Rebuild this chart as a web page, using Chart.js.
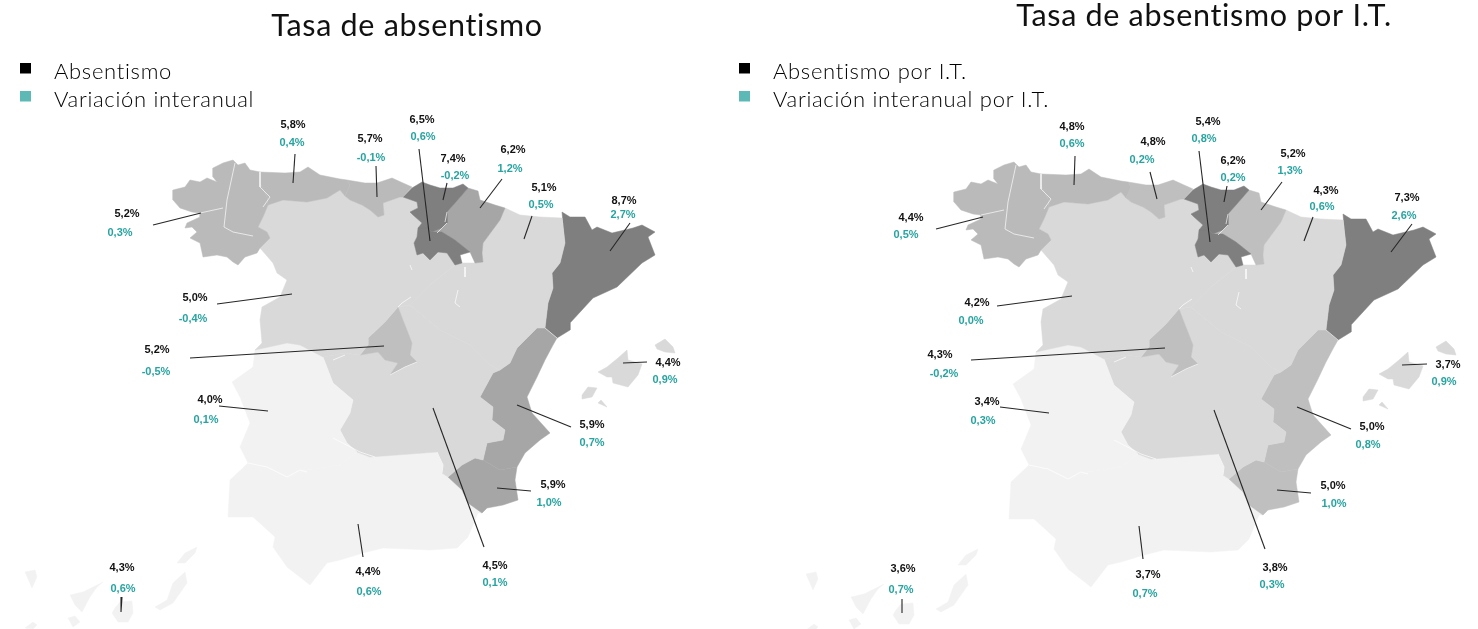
<!DOCTYPE html>
<html lang="es">
<head>
<meta charset="utf-8">
<title>Tasa de absentismo</title>
<script src="https://cdn.jsdelivr.net/npm/chart.js@4"></script>
<style>
html,body{margin:0;padding:0;background:#fff;width:1478px;height:629px;overflow:hidden}
#wrap{position:relative;width:1478px;height:629px;overflow:hidden}
canvas{position:absolute;top:0}
</style>
</head>
<body>
<div id="wrap">
<canvas id="left" width="814" height="629" style="left:0;width:814px;height:629px"></canvas>
<canvas id="right" width="970" height="629" style="left:719px;width:970px;height:629px"></canvas>
</div>
<script>
// ---- Values (same region order everywhere) ----
const regions = ["Galicia","Asturias","Cantabria","País Vasco","La Rioja","Navarra","Aragón","Cataluña","Castilla y León","Madrid","Extremadura","Castilla-La Mancha","C. Valenciana","Murcia","Andalucía","Baleares","Canarias"];
const absentismo    = [5.2,5.8,5.7,7.4,6.5,6.2,5.1,8.7,5.0,5.2,4.0,4.5,5.9,5.9,4.4,4.4,4.3];
const variacion     = [0.3,0.4,-0.1,-0.2,0.6,1.2,0.5,2.7,-0.4,-0.5,0.1,0.1,0.7,1.0,0.6,0.9,0.6];
const absentismoIT  = [4.4,4.8,4.8,6.2,5.4,5.2,4.3,7.3,4.2,4.3,3.4,3.8,5.0,5.0,3.7,3.7,3.6];
const variacionIT   = [0.5,0.6,0.2,0.2,0.8,1.3,0.6,2.6,0.0,-0.2,0.3,0.3,0.8,1.0,0.7,0.9,0.7];

// ---- Text ----
const titleLeft = "Tasa de absentismo";
const titleRight = "Tasa de absentismo por I.T.";
const legendLeft = ["Absentismo","Variación interanual"];
const legendRight = ["Absentismo por I.T.","Variación interanual por I.T."];

// ---- Map outlines, in axis units of the left chart ----
const galicia = [[260,172],[250,170],[245,163],[238,165],[233,160],[223,163],[213,168],[213,177],[217,182],[207,178],[200,182],[190,180],[185,187],[173,190],[173,200],[180,208],[192,212],[200,213],[200,217],[187,223],[185,228],[192,227],[197,232],[190,238],[200,243],[203,257],[217,255],[227,257],[233,262],[238,265],[245,257],[257,253],[260,248],[270,238],[267,232],[258,227],[263,217],[268,205],[267,197],[260,183]];
const asturias = [[260,172],[285,173],[300,172],[308,167],[320,175],[340,179],[347,180],[350,185],[345,196],[340,190],[327,198],[307,202],[283,200],[268,205],[267,197],[260,183]];
const cantabria = [[347,180],[365,183],[377,183],[392,178],[403,183],[412,187],[403,197],[400,197],[383,203],[384,215],[378,217],[370,210],[362,205],[350,200],[345,196],[350,185]];
const paisVasco = [[403,197],[412,188],[422,182],[430,185],[440,188],[453,188],[463,184],[468,188],[462,195],[455,203],[447,212],[447,223],[442,228],[432,232],[428,228],[418,228],[422,223],[413,215],[410,212],[418,208],[417,202]];
const rioja = [[418,228],[428,228],[432,232],[442,232],[455,240],[470,252],[460,255],[462,263],[455,265],[447,253],[438,252],[430,260],[423,253],[417,255],[414,243],[417,237]];
const navarra = [[468,188],[478,191],[480,200],[495,205],[505,208],[500,220],[483,243],[482,253],[483,262],[475,263],[470,252],[455,240],[442,232],[432,232],[442,228],[447,223],[447,212],[455,203],[462,195]];
const aragon = [[505,208],[520,215],[540,217],[562,218],[565,243],[560,263],[552,273],[553,288],[548,303],[545,328],[537,328],[528,337],[517,348],[510,363],[500,370],[490,365],[470,345],[440,330],[410,305],[430,285],[455,265],[462,263],[475,263],[483,262],[482,253],[483,243],[500,220]];
const cataluna = [[562,212],[570,217],[585,217],[592,230],[597,227],[612,233],[633,228],[642,225],[655,232],[648,237],[655,255],[642,263],[617,287],[593,298],[570,323],[570,330],[557,338],[545,328],[548,303],[553,288],[552,273],[560,263],[565,243]];
const castillaLeon = [[268,205],[283,200],[307,202],[327,198],[340,190],[345,196],[350,200],[362,205],[370,210],[378,217],[384,215],[383,203],[400,197],[403,197],[417,202],[418,208],[410,212],[413,215],[422,223],[418,228],[417,237],[414,243],[417,255],[423,253],[430,260],[438,252],[447,253],[455,265],[430,285],[410,305],[398,307],[385,322],[368,338],[368,345],[360,355],[345,353],[323,357],[300,345],[287,343],[255,350],[262,343],[260,320],[262,307],[280,297],[287,280],[277,273],[273,263],[260,248],[270,238],[267,232],[258,227],[263,217]];
const madrid = [[398,307],[403,320],[412,343],[410,355],[417,362],[405,367],[390,375],[398,363],[385,360],[378,352],[360,355],[368,345],[368,338],[385,322]];
const extremadura = [[255,350],[287,343],[300,345],[323,357],[333,383],[353,400],[350,413],[340,430],[347,443],[357,452],[340,465],[307,470],[287,477],[267,467],[248,463],[240,447],[250,423],[240,397],[232,382],[253,367]];
const castillaMancha = [[323,357],[345,353],[360,355],[378,352],[385,360],[398,363],[390,375],[405,367],[417,362],[410,355],[412,343],[403,320],[398,307],[410,305],[440,330],[470,345],[490,365],[500,370],[493,373],[480,397],[493,407],[492,420],[505,430],[503,440],[487,443],[483,460],[475,458],[462,465],[448,477],[442,473],[443,465],[437,452],[397,455],[370,457],[357,452],[347,443],[340,430],[350,413],[353,400],[333,383]];
const valencia = [[500,370],[510,363],[517,348],[528,337],[537,328],[545,328],[557,338],[553,345],[545,360],[537,377],[527,397],[532,413],[550,433],[540,440],[525,453],[517,467],[500,470],[483,460],[487,443],[503,440],[505,430],[492,420],[493,407],[480,397],[493,373]];
const murcia = [[448,477],[462,465],[475,458],[483,460],[500,470],[517,467],[515,480],[518,500],[503,505],[487,508],[482,513],[468,503],[462,490]];
const andalucia = [[248,463],[230,480],[228,517],[253,517],[275,537],[273,547],[287,567],[310,585],[327,563],[340,560],[363,553],[383,548],[430,550],[457,548],[468,537],[478,513],[482,513],[468,503],[462,490],[448,477],[442,473],[443,465],[437,452],[397,455],[370,457],[357,452],[340,465],[307,470],[287,477],[267,467]];
const mallorca = [[598,372],[607,367],[618,358],[627,350],[628,360],[642,364],[638,375],[628,387],[613,383],[612,377],[607,377]];
const menorca = [[655,345],[665,339],[673,347],[675,353],[665,352],[657,349]];
const ibiza = [[582,395],[588,387],[597,388],[592,397],[582,399]];
const formentera = [[598,403],[601,400],[607,407]];
const tenerife = [[70,595],[83,592],[103,582],[97,587],[90,597],[82,612],[75,605]];
const granCanaria = [[112,613],[115,608],[120,602],[132,601],[133,613],[128,622],[118,622]];
const lanzarote = [[177,563],[185,553],[197,547],[195,553],[185,563]];
const fuerteventura = [[173,583],[185,572],[187,583],[173,603],[160,610],[155,607],[167,600]];
const laPalma = [[25,572],[35,570],[37,577],[32,588]];
const gomera = [[68,618],[75,616],[80,622],[73,627]];
const hierro = [[25,628],[33,622],[37,625],[33,629]];
const regionShapes = [[galicia],[asturias],[cantabria],[paisVasco],[rioja],[navarra],[aragon],[cataluna],[castillaLeon],[madrid],[extremadura],[castillaMancha],[valencia],[murcia],[andalucia],[mallorca,menorca,ibiza,formentera],[tenerife,granCanaria,lanzarote,fuerteventura,laPalma,gomera,hierro]];
const paleBorders = [
  [[235,163],[227,200],[224,227],[233,232],[253,236]],
  [[200,213],[223,208]],
  [[260,172],[260,187],[270,197],[263,207]],
  [[410,265],[412,270]],
  [[465,267],[465,277]],
  [[458,290],[455,303],[460,307]],
  [[411,297],[402,303],[398,307]],
  [[417,362],[405,367],[390,375]],
  [[333,360],[345,355]],
  [[333,438],[360,452],[375,457]],
  [[437,452],[443,465],[442,473]],
  [[248,463],[267,467],[287,477],[300,470],[307,472]],
  [[545,328],[557,338]],
  [[447,212],[445,222]],
  [[437,233],[447,223]]
];

// ---- Fills by region ----
const fillsLeft  = ["#bababa","#bababa","#bababa","#7f7f7f","#7f7f7f","#a6a6a6","#d9d9d9","#7f7f7f","#d9d9d9","#bfbfbf","#f2f2f2","#d9d9d9","#a6a6a6","#a6a6a6","#f2f2f2","#d9d9d9","#f2f2f2"];
const fillsRight = ["#bababa","#bababa","#bfbfbf","#7f7f7f","#7f7f7f","#bfbfbf","#d9d9d9","#7f7f7f","#d9d9d9","#bfbfbf","#f2f2f2","#d9d9d9","#bfbfbf","#bfbfbf","#f2f2f2","#d9d9d9","#f2f2f2"];

// ---- Label anchors and leader lines, in axis units ----
const absPosLeft = [[127,213],[293,124],[370,138],[453,158],[422,119],[513,149],[544,187],[624,200],[195,297],[157,349],[210,399],[495,565],[592,424],[553,484],[368,571],[668,362],[122,567]];
const varPosLeft = [[120,232],[292,142],[371,157],[455,175],[423,136],[510,168],[541,204],[623,214],[193,318],[156,371],[206,419],[495,582],[592,442],[549,502],[369,591],[665,379],[123,588]];
const absPosRight = [[911,217],[1072,126],[1153,141],[1233,160],[1208,121],[1293,153],[1326,190],[1407,197],[977,302],[940,354],[987,401],[1275,567],[1372,426],[1333,485],[1148,574],[1448,364],[903,568]];
const varPosRight = [[906,234],[1072,143],[1142,159],[1233,177],[1204,138],[1290,170],[1322,206],[1404,215],[971,320],[944,373],[983,420],[1272,584],[1368,444],[1334,503],[1145,593],[1444,381],[901,589]];
const leadersLeft = [[[153,225],[201,213]],[[295,154],[293,183]],[[376,166],[377,197]],[[447,183],[443,200]],[[419,149],[430,241]],[[502,179],[480,208]],[[532,216],[524,239]],[[630,223],[610,251]],[[217,304],[292,294]],[[190,358],[384,346]],[[219,406],[268,411]],[[433,408],[484,547]],[[517,405],[571,427]],[[497,488],[531,491]],[[358,524],[363,557]],[[623,363],[647,362]],[[122,597],[121,612]]];
const leadersRight = [[[936,229],[983,217]],[[1075,156],[1074,185]],[[1150,172],[1157,199]],[[1227,186],[1224,202]],[[1199,151],[1210,242]],[[1282,182],[1261,210]],[[1313,217],[1304,241]],[[1412,224],[1391,252]],[[997,306],[1072,296]],[[971,360],[1165,348]],[[1000,407],[1049,413]],[[1214,410],[1265,549]],[[1297,407],[1351,429]],[[1277,490],[1311,493]],[[1139,526],[1143,559]],[[1402,365],[1427,364]],[[902,599],[902,613]]];

// ---- Styling ----
const BLACK = "#000000", TEAL_BOX = "#5cb9b5", TEAL_TXT = "#27a4a0", INK = "#111111";
const TITLE_FONT = {family:"Lato", size:30.5, weight:"400", lineHeight:1};
const LEGEND_FONT = {family:"Lato", size:22, weight:"300"};
const LABEL_FONT = "bold 11px 'Liberation Sans'";
const SPACING = "0.7px";

// A 13×19 image: the 11 px square sits right-aligned and above the centre line, as in the reference.
function legendMark(color){
  const c = document.createElement("canvas");
  c.width = 13; c.height = 19;
  const g = c.getContext("2d");
  g.fillStyle = color; g.fillRect(2,0,11,11);
  return c;
}
const pts = (arr,dx=0,dy=0) => arr.map(p => ({x:p[0]+dx, y:p[1]+dy}));
const fmt = v => v.toFixed(1).replace(".",",") + "%";

const valueLabels = {
  id:"valueLabels",
  beforeDraw(chart){ chart.ctx.letterSpacing = SPACING; },
  afterDatasetsDraw(chart){
    const {ctx, scales:{x,y}} = chart;
    ctx.save();
    ctx.letterSpacing = "0px";
    ctx.font = LABEL_FONT;
    ctx.textAlign = "center";
    ctx.textBaseline = "middle";
    [0,1].forEach(i => {
      const ds = chart.data.datasets[i];
      ctx.fillStyle = i === 0 ? INK : TEAL_TXT;
      ds.data.forEach(p => ctx.fillText(fmt(p.value), x.getPixelForValue(p.x), y.getPixelForValue(p.y) + 1));
    });
    ctx.restore();
    ctx.letterSpacing = SPACING;
  }
};

function build(id, o){
  const datasets = [
    {label:o.legend[0], data:o.absPos.map((p,i)=>({x:p[0],y:p[1],value:o.abs[i]})), pointRadius:0, showLine:false, backgroundColor:BLACK, borderColor:BLACK, pointStyle:legendMark(BLACK)},
    {label:o.legend[1], data:o.varPos.map((p,i)=>({x:p[0],y:p[1],value:o.vari[i]})), pointRadius:0, showLine:false, backgroundColor:TEAL_BOX, borderColor:TEAL_BOX, pointStyle:legendMark(TEAL_BOX)}
  ];
  o.leaders.forEach((l,i) => datasets.push({label:"l"+i, data:pts(l), showLine:true, pointRadius:0, borderColor:"#262626", borderWidth:1.1, fill:false}));
  paleBorders.forEach((l,i) => datasets.push({label:"b"+i, data:pts(l,o.dx,o.dy), showLine:true, pointRadius:0, borderColor:"rgba(255,255,255,0.75)", borderWidth:0.9, fill:false}));
  regionShapes.forEach((parts,i) => parts.forEach(part => {
    const closed = part.concat([part[0]]);
    datasets.push({label:regions[i], data:pts(closed,o.dx,o.dy), showLine:true, pointRadius:0, tension:0, borderColor:o.fills[i], borderWidth:0.5, backgroundColor:o.fills[i], fill:"shape"});
  }));
  return new Chart(document.getElementById(id), {
    type:"scatter",
    data:{datasets},
    options:{
      responsive:false, animation:false, events:[],
      layout:{padding:0},
      scales:{
        x:{type:"linear", display:false, min:o.xMin, max:o.xMax},
        y:{type:"linear", display:false, reverse:true, min:54, max:629}
      },
      plugins:{
        tooltip:{enabled:false},
        title:{display:true, text:o.title, color:INK, font:TITLE_FONT, padding:o.titlePad},
        legend:{display:true, position:"chartArea", align:"start",
          title:{display:true, text:" ", font:{size:10, lineHeight:1}, padding:{top:45,bottom:0}},
          labels:{color:"#000000", font:LEGEND_FONT, padding:6, usePointStyle:true, pointStyleWidth:37,
            generateLabels:chart => chart.data.datasets.slice(0,2).map((d,i)=>({text:d.label, datasetIndex:i, pointStyle:d.pointStyle, fontColor:"#000000", lineWidth:0, hidden:false}))
          }
        }
      }
    },
    plugins:[valueLabels]
  });
}

build("left", {title:titleLeft, legend:legendLeft, abs:absentismo, vari:variacion, absPos:absPosLeft, varPos:varPosLeft, leaders:leadersLeft, fills:fillsLeft, dx:0, dy:0, xMin:0, xMax:814, titlePad:{top:11,bottom:12.5}});
build("right", {title:titleRight, legend:legendRight, abs:absentismoIT, vari:variacionIT, absPos:absPosRight, varPos:varPosRight, leaders:leadersRight, fills:fillsRight, dx:781, dy:2, xMin:719, xMax:1689, titlePad:{top:1,bottom:22.5}});
</script>
</body>
</html>
